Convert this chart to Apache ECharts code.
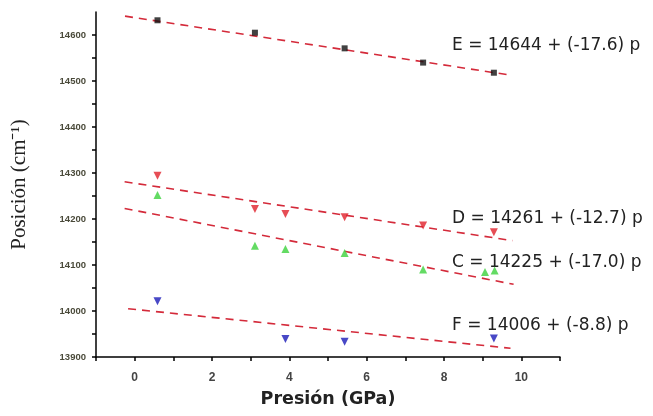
<!DOCTYPE html>
<html><head><meta charset="utf-8">
<script src="https://cdn.jsdelivr.net/npm/echarts@6/dist/echarts.min.js"></script>
<style>html,body{margin:0;padding:0;background:#fff}#c{width:653px;height:416px}</style>
</head><body><div id="c"></div>
<script>
// Data
const pE = [0.59, 3.11, 5.43, 7.46, 9.29];
const vE = [14632, 14605, 14571, 14540, 14518];
const pD = [0.59, 3.11, 3.9, 5.43, 7.46, 9.29];
const vD = [14294, 14222, 14211, 14204, 14186, 14171];
const pC = [0.59, 3.11, 3.9, 5.43, 7.46, 9.06, 9.31];
const vC = [14252, 14142, 14135, 14126, 14090, 14085, 14088];
const pF = [0.59, 3.9, 5.43, 9.29];
const vF = [14021, 13939, 13933, 13940];
// Fit line endpoints [pressure, position]
const fitE = [[-0.25, 14641], [9.7, 14513]];
const fitD = [[-0.26, 14281], [9.77, 14153]];
const fitC = [[-0.26, 14223], [9.8, 14058]];
const fitF = [[-0.17, 14005], [9.72, 13919]];
const labels = ["E = 14644 + (-17.6) p", "D = 14261 + (-12.7) p", "C = 14225 + (-17.0) p", "F = 14006 + (-8.8) p"];
const labelY = [37, 210, 254, 317];

const zip = (a, b) => a.map((x, i) => [x, b[i]]);
const fitStyle = {color: '#d42a3a', width: 1.6, type: [8, 6]};
const fit = d => ({type: 'line', data: d, symbol: 'none', lineStyle: fitStyle, silent: true, z: 1});

const chart = echarts.init(document.getElementById('c'));
chart.setOption({
  animation: false,
  grid: {left: 96, right: 93, top: 12, bottom: 59},
  xAxis: {
    type: 'value', min: -1, max: 11, interval: 1,
    name: 'Presión (GPa)', nameLocation: 'middle', nameGap: 33,
    nameTextStyle: {fontFamily: 'DejaVu Sans', fontWeight: 'bold', fontSize: 17.5, color: '#222'},
    axisLine: {onZero: false, lineStyle: {color: '#000', width: 1.5}},
    axisTick: {length: 4, lineStyle: {color: '#000', width: 1.5}},
    axisLabel: {fontFamily: 'Liberation Sans', fontWeight: 'bold', fontSize: 12, color: '#444', margin: 15,
      formatter: v => (Math.round(v) % 2 === 0 ? String(v) : '')},
    splitLine: {show: false}
  },
  yAxis: {
    type: 'value', min: 13900, max: 14650, interval: 50,
    name: 'Posición (cm⁻¹)', nameLocation: 'middle', nameGap: 66, nameRotate: 90,
    nameTextStyle: {fontFamily: 'Liberation Serif', fontSize: 21, color: '#222'},
    axisLine: {show: true, onZero: false, lineStyle: {color: '#000', width: 1.5}},
    axisTick: {show: true, length: 4, lineStyle: {color: '#000', width: 1.5}},
    axisLabel: {fontFamily: 'Liberation Sans', fontWeight: 'bold', fontSize: 9.5, color: '#4a4a3a', margin: 10,
      showMaxLabel: false,
      formatter: v => (Math.round(v) % 100 === 0 ? String(v) : '')},
    splitLine: {show: false}
  },
  graphic: labels.map((t, i) => ({
    type: 'text', left: 452, top: labelY[i],
    style: {text: t, fontFamily: 'DejaVu Sans', fontSize: 17, fill: '#222'}
  })),
  series: [
    fit(fitE), fit(fitD), fit(fitC), fit(fitF),
    {type: 'scatter', data: zip(pE, vE), symbol: 'rect', symbolSize: 6, itemStyle: {color: '#111'}, z: 3},
    {type: 'scatter', data: zip(pD, vD), symbol: 'triangle', symbolRotate: 180, symbolSize: 8, itemStyle: {color: '#e0202a'}, z: 3},
    {type: 'scatter', data: zip(pC, vC), symbol: 'triangle', symbolSize: 8, itemStyle: {color: '#3cd23c'}, z: 3},
    {type: 'scatter', data: zip(pF, vF), symbol: 'triangle', symbolRotate: 180, symbolSize: 8, itemStyle: {color: '#1a1ab8'}, z: 3}
  ]
});
</script></body></html>
